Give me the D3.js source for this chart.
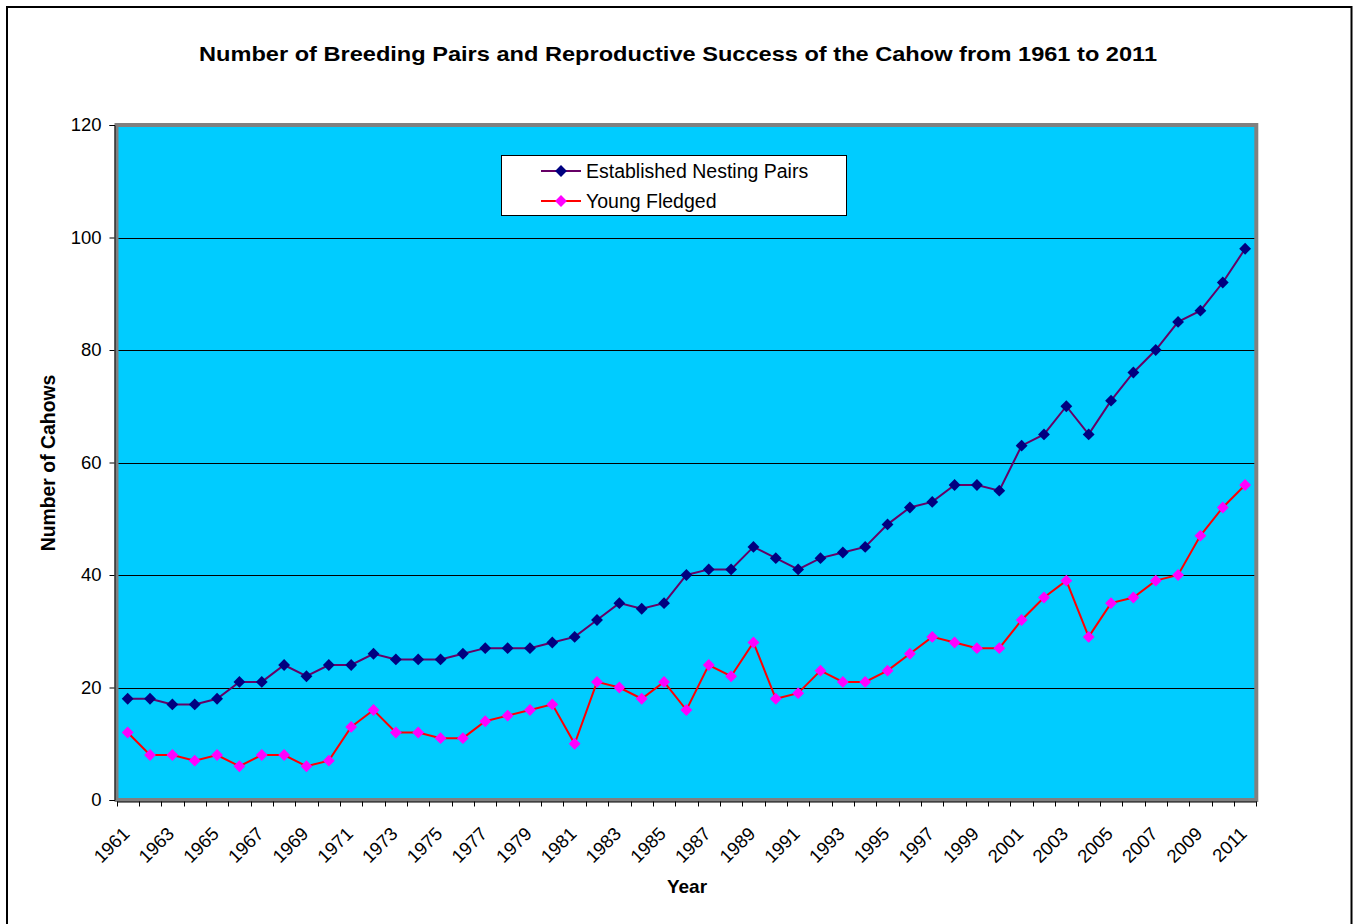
<!DOCTYPE html>
<html><head><meta charset="utf-8">
<script src="https://cdn.jsdelivr.net/npm/d3@7"></script>
<style>body{margin:0;background:#fff}svg{display:block}text{font-family:"Liberation Sans",Arial,sans-serif;fill:#000}</style>
</head><body>
<svg id="c" width="1356" height="924"></svg>
<script>
const years = [1961,1962,1963,1964,1965,1966,1967,1968,1969,1970,1971,1972,1973,1974,1975,1976,1977,1978,1979,1980,1981,1982,1983,1984,1985,1986,1987,1988,1989,1990,1991,1992,1993,1994,1995,1996,1997,1998,1999,2000,2001,2002,2003,2004,2005,2006,2007,2008,2009,2010,2011];
const nestingPairs = [18,18,17,17,18,21,21,24,22,24,24,26,25,25,25,26,27,27,27,28,29,32,35,34,35,40,41,41,45,43,41,43,44,45,49,52,53,56,56,55,63,65,70,65,71,76,80,85,87,92,98];
const youngFledged = [12,8,8,7,8,6,8,8,6,7,13,16,12,12,11,11,14,15,16,17,10,21,20,18,21,16,24,22,28,18,19,23,21,21,23,26,29,28,27,27,32,36,39,29,35,36,39,40,47,52,56];
const yTicks = [0,20,40,60,80,100,120];
const xTickLabels = years.filter((d,i)=>i%2===0);
const seriesNames = ["Established Nesting Pairs","Young Fledged"];

const svg = d3.select("#c");
const L = 116.5, R = 1256.3, T = 125, B = 800;
const x = d3.scaleBand().domain(years).range([L, R]).padding(0);
const y = d3.scaleLinear().domain([0,120]).range([B, T]);

// outer border
svg.append("rect").attr("x",7).attr("y",7).attr("width",1344.5).attr("height",1000)
  .attr("fill","#fff").attr("stroke","#000").attr("stroke-width",2);

// title
svg.append("text").attr("x",678).attr("y",61).attr("text-anchor","middle")
  .attr("textLength",958).attr("lengthAdjust","spacingAndGlyphs")
  .style("font-weight","bold").style("font-size","20.5px")
  .text("Number of Breeding Pairs and Reproductive Success of the Cahow from 1961 to 2011");

// plot area
svg.append("rect").attr("x",L).attr("y",T).attr("width",R-L).attr("height",B-T)
  .attr("fill","#00CCFF").attr("stroke","#808080").attr("stroke-width",4);

// gridlines
svg.append("g").selectAll("line").data(yTicks.filter(d=>d>0&&d<120)).join("line")
  .attr("x1",L+2).attr("x2",R-2).attr("y1",d=>Math.round(y(d))+0.5).attr("y2",d=>Math.round(y(d))+0.5)
  .attr("stroke","#000").attr("stroke-width",1);

// y axis
const yAxis = d3.axisLeft(y).tickValues(yTicks).tickSize(5).tickPadding(8);
const gy = svg.append("g").attr("transform",`translate(${L-2},0)`).call(yAxis);
gy.select(".domain").attr("stroke","#000");
gy.selectAll("text").style("font-size","18.5px").style("font-family","'Liberation Sans',Arial,sans-serif").attr("fill","#000");

// x axis
const xAxis = d3.axisBottom(x).tickValues([]).tickSize(0);
const gx = svg.append("g").attr("transform",`translate(0,${B+1.5})`).call(xAxis);
gx.select(".domain").attr("stroke","#000");
const bounds = years.map(d=>x(d)).concat([x(years[years.length-1])+x.bandwidth()]);
gx.selectAll("line.tk").data(bounds).join("line").attr("class","tk")
  .attr("x1",d=>Math.round(d)+0.5).attr("x2",d=>Math.round(d)+0.5).attr("y1",0).attr("y2",5)
  .attr("stroke","#000");
svg.append("g").selectAll("text").data(xTickLabels).join("text")
  .attr("text-anchor","end")
  .attr("transform",d=>`translate(${x(d)+x.bandwidth()/2+3},835) rotate(-45)`)
  .style("font-size","18.5px")
  .text(d=>d);

// axis titles
svg.append("text").attr("x",687).attr("y",893).attr("text-anchor","middle")
  .style("font-weight","bold").style("font-size","19px").text("Year");
svg.append("text").attr("transform","translate(55,463) rotate(-90)").attr("text-anchor","middle")
  .style("font-weight","bold").style("font-size","19.4px").text("Number of Cahows");

// series
const cx = d=>x(d)+x.bandwidth()/2;
const series = [
  {name:seriesNames[0], values:nestingPairs, line:"#660066", marker:"#000080"},
  {name:seriesNames[1], values:youngFledged, line:"#FF0000", marker:"#FF00FF"}
];
const lineGen = d3.line().x(d=>cx(d.year)).y(d=>y(d.v));
const diamond = d3.symbol().type(d3.symbolSquare).size(70);
series.forEach(s=>{
  const pts = years.map((yr,i)=>({year:yr, v:s.values[i]}));
  svg.append("path").datum(pts).attr("d",lineGen).attr("fill","none")
    .attr("stroke",s.line).attr("stroke-width",2);
  svg.append("g").selectAll("path").data(pts).join("path")
    .attr("d",diamond).attr("transform",d=>`translate(${cx(d.year)},${y(d.v)}) rotate(45)`)
    .attr("fill",s.marker);
});

// legend
const lg = svg.append("g");
lg.append("rect").attr("x",501.5).attr("y",155.5).attr("width",345).attr("height",60)
  .attr("fill","#fff").attr("stroke","#000").attr("stroke-width",1);
series.forEach((s,i)=>{
  const ly = 171 + i*30;
  lg.append("line").attr("x1",541).attr("x2",581).attr("y1",ly).attr("y2",ly)
    .attr("stroke",s.line).attr("stroke-width",2);
  lg.append("path").attr("d",diamond).attr("transform",`translate(561,${ly}) rotate(45)`).attr("fill",s.marker);
  lg.append("text").attr("x",586).attr("y",ly).attr("dy","0.35em").style("font-size","19.5px").text(s.name);
});
</script>
</body></html>
